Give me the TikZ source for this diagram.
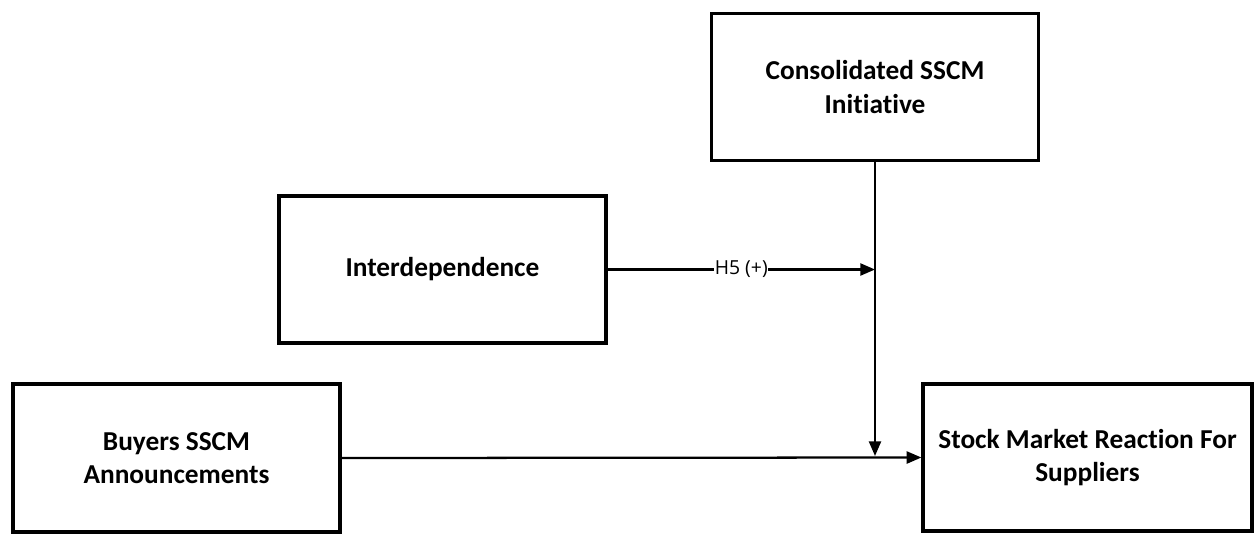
\documentclass[tikz,border=0pt]{standalone}
\usepackage{fontspec}
\setmainfont{Carlito}[Ligatures={NoCommon}]
\newfontfamily\labelfont{Open Sans}
\usetikzlibrary{arrows.meta}
\begin{document}
\begin{tikzpicture}[x=0.75pt,y=-0.75pt,
  box/.style={draw, line width=2.4pt, align=center, font=\bfseries\fontsize{20.5}{25}\selectfont, inner sep=0pt},
  conn/.style={line width=1.7pt, -{Triangle[length=11pt,width=9pt]}}]
\useasboundingbox (0,0) rectangle (1257,540);
\node[box, minimum width=327*0.75pt, minimum height=147*0.75pt] (cons) at (875,87) {Consolidated SSCM\\Initiative};
\node[box, minimum width=327*0.75pt, minimum height=147*0.75pt] (inter) at (442.5,269.5) {Interdependence};
\node[box, minimum width=327*0.75pt, minimum height=148*0.75pt] (buy) at (176.5,458) {Buyers SSCM\\Announcements};
\node[box, minimum width=329*0.75pt, minimum height=147*0.75pt] (stock) at (1087.5,457.5) {Stock Market Reaction For\\Suppliers};
\coordinate (j) at (875,456);
\coordinate (m) at (875,269.5);
\draw[conn] (cons.south) -- (j);
\draw[conn] (buy.east) -- (stock.west);
\draw[conn] (inter.east) -- node[fill=white, inner sep=0.5pt, font=\labelfont\fontsize{14.5}{16}\selectfont] {H5 (+)} (m);
\end{tikzpicture}
\end{document}
